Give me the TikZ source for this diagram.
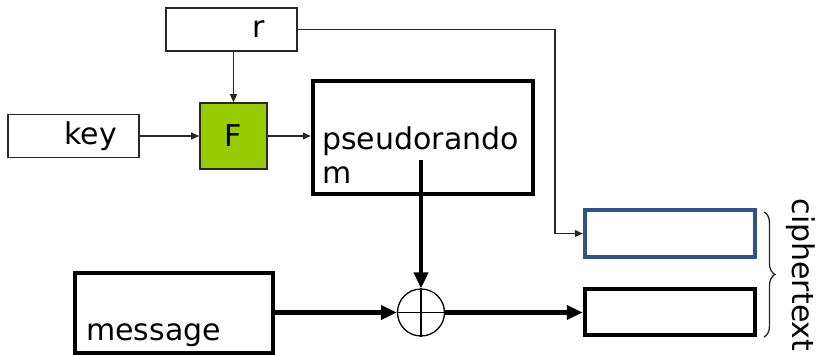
\documentclass[tikz,border=0pt]{standalone}
\usepackage{fontspec}
\setmainfont{DejaVu Sans}
\definecolor{fgreen}{RGB}{153,204,0}
\definecolor{cblue}{RGB}{44,84,138}
\definecolor{edge}{RGB}{40,40,40}
\usetikzlibrary{arrows.meta,positioning,decorations.pathreplacing}
\tikzset{
  big/.style={font=\fontsize{30}{34}\selectfont},
  box/.style={draw=edge,line width=1.6pt,inner sep=0pt,big},
  thickbox/.style={box,draw=black,line width=4.5pt},
  thinarr/.style={-{Triangle[length=8pt,width=7pt]},line width=1.3pt,draw=edge},
  bigarr/.style={-{Triangle[length=16pt,width=14pt]},line width=4.5pt},
  txt/.style={big,align=left,inner sep=0pt},
}
\begin{document}
\begin{tikzpicture}[x=1pt,y=-1pt]
  \useasboundingbox (0,0) rectangle (820,354);
  \node[box,minimum width=131pt,minimum height=43pt,text width=67pt,align=right] (rval) at (231.5,29.5) {r};
  \node[box,minimum width=131pt,minimum height=43pt,text width=87pt,align=right] (key) at (73.5,136) {key};
  \node[box,fill=fgreen,minimum width=67pt,minimum height=66pt] (prf) at (233.5,136) {F};
  \node[thickbox,minimum width=220pt,minimum height=113pt] (prg) at (423,137.5) {};
  \node[txt,anchor=north west] (prgtxt) at (322,127) {pseudorando\\m};
  \node[thickbox,minimum width=198pt,minimum height=80pt] (msg) at (174,313) {};
  \node[txt,anchor=base west] (msgtxt) at (86,340) {message};
  \node[draw,circle,line width=1.3pt,minimum size=47pt,inner sep=0pt] (xor) at (421,312.5) {};
  \draw[line width=1.3pt] (xor.north) -- (xor.south) (xor.west) -- (xor.east);
  \node[thickbox,draw=cblue,minimum width=170pt,minimum height=47pt] (ctr) at (670,233.5) {};
  \node[thickbox,minimum width=170pt,minimum height=46pt] (cts) at (670,312) {};
  \coordinate (bend) at (555,29.5);
  \coordinate (tap) at (421,160);
  \draw[thinarr] (rval.south -| prf) -- (prf);
  \draw[thinarr] (key) -- (prf);
  \draw[thinarr] (prf) -- (prg.west |- prf);
  \draw[thinarr] (rval.east) -- (bend) |- (ctr.west);
  \draw[bigarr] (tap) -- (xor.north);
  \draw[bigarr] (msg.east |- xor) -- (xor.west);
  \draw[bigarr] (xor.east) -- (cts.west |- xor);
  \draw[decorate,decoration={brace,amplitude=11pt},line width=1.3pt,draw=edge]
    (764,212) -- (764,337);
  \node[big,rotate=-90] (ctlbl) at (801,275) {ciphertext};
\end{tikzpicture}
\end{document}
